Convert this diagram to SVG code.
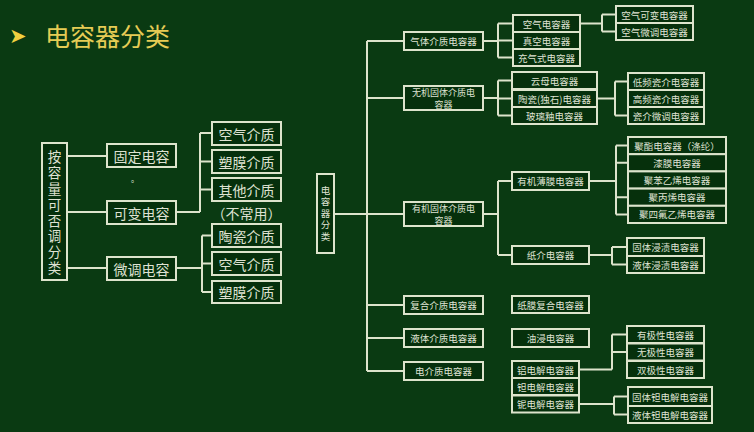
<svg xmlns="http://www.w3.org/2000/svg" width="754" height="432" viewBox="0 0 754 432">
<style>
.bg{fill:#0a3a12}
.b{fill:#06300c;stroke:#dde4cc;stroke-width:2}
.l{fill:none;stroke:#dde4cc;stroke-width:2}
text{font-family:"Noto Sans CJK SC","Noto Sans",sans-serif;fill:#dfe2d2;text-anchor:middle;dominant-baseline:central}
.t{font-size:14px}
.v{font-size:13.5px;writing-mode:vertical-rl;text-anchor:start;letter-spacing:2.36px}
.vs{font-size:9.5px;writing-mode:vertical-rl;text-anchor:start;letter-spacing:2px}
.s{font-size:9.5px}
.s2{font-size:9px}
.title{font-size:25px;fill:#e6cc55;text-anchor:start}
.arrow{font-family:"DejaVu Sans",sans-serif;font-size:21px;fill:#f0d040;text-anchor:start}
</style>
<rect class="bg" x="0" y="0" width="754" height="432"/>
<g id="title">
<text class="arrow" x="9" y="36">➤</text>
<text class="title" x="45" y="35">电容器分类</text>
</g>
<g id="connectors">
<path class="l" d="M67 156H107M67 212H107M67 268H107"/>
<path class="l" d="M176 212H200M200 133V212M200 133H212M200 161.5H212M200 189.5H212"/>
<path class="l" d="M176 268H202M202 235.5V292M202 235.5H212M202 263.5H212M202 292H212"/>
<path class="l" d="M367 41V371M367 41H404M367 98H404M334 214H404M367 305H404M367 338H404M367 371H404"/>
<path class="l" d="M483 41H498M498 23.5V57.5M498 23.5H513M498 40.5H513M498 57.5H513"/>
<path class="l" d="M580 23.5H602M602 14.5V31.5M602 14.5H616M602 31.5H616"/>
<path class="l" d="M483 98H498M498 80.5V115.5M498 80.5H512M498 98.5H512M498 115.5H512"/>
<path class="l" d="M597 98.5H615M615 81.5V115.5M615 81.5H628M615 115.5H628"/>
<path class="l" d="M483 214H498M498 181V255M498 181H512M498 255H512"/>
<path class="l" d="M589 181H616M616 145.6V214.4M616 145.6H628M616 162.8H628M616 197.2H628M616 214.4H628"/>
<path class="l" d="M589 255H612M612 247V264.5M612 247H627M612 264.5H627"/>
<path class="l" d="M579 369.5H612M612 334.5V369.5M612 334.5H627M612 352H627"/>
<path class="l" d="M579 404H614M614 396.5V414.5M614 396.5H628M614 414.5H628"/>
</g>
<g id="n-left-root">
<rect class="b" x="42" y="143" width="25" height="137"/>
<text class="v" x="54.5" y="150.25">按容量可否调分类</text>
</g>
<g id="n-fixed"><rect class="b" x="107" y="144" width="69" height="23"/><text class="t" x="141.5" y="155.5">固定电容</text></g>
<g id="n-dot"><text x="135" y="178" style="font-size:8px">。</text></g>
<g id="n-var"><rect class="b" x="107" y="201" width="69" height="23"/><text class="t" x="141.5" y="212.5">可变电容</text></g>
<g id="n-trim"><rect class="b" x="107" y="257" width="69" height="23"/><text class="t" x="141.5" y="268.5">微调电容</text></g>
<g id="n-v1"><rect class="b" x="212" y="122" width="69" height="23"/><text class="t" x="246.5" y="133.5">空气介质</text></g>
<g id="n-v2"><rect class="b" x="212" y="150" width="69" height="23"/><text class="t" x="246.5" y="161.5">塑膜介质</text></g>
<g id="n-v3"><rect class="b" x="212" y="178" width="69" height="23"/><text class="t" x="246.5" y="189.5">其他介质</text><text class="t" x="246.5" y="212.5">（不常用）</text></g>
<g id="n-t1"><rect class="b" x="212" y="224" width="69" height="23"/><text class="t" x="246.5" y="235.5">陶瓷介质</text></g>
<g id="n-t2"><rect class="b" x="212" y="252" width="69" height="23"/><text class="t" x="246.5" y="263.5">空气介质</text></g>
<g id="n-t3"><rect class="b" x="212" y="281" width="69" height="22"/><text class="t" x="246.5" y="292">塑膜介质</text></g>

<g id="n-root">
<rect class="b" x="317" y="174" width="17" height="79"/>
<text class="vs" x="325.5" y="185.25">电容器分类</text>
</g>
<g id="n-gas"><rect class="b" x="404" y="32" width="79" height="18"/><text class="s" x="443.5" y="41">气体介质电容器</text></g>
<g id="n-inorg"><rect class="b" x="404" y="86" width="79" height="24"/><text class="s2" x="443.5" y="92">无机固体介质电<tspan x="443.5" y="104">容器</tspan></text></g>
<g id="n-org"><rect class="b" x="404" y="202" width="79" height="24"/><text class="s2" x="443.5" y="208">有机固体介质电<tspan x="443.5" y="220">容器</tspan></text></g>
<g id="n-comp"><rect class="b" x="404" y="296" width="79" height="18"/><text class="s" x="443.5" y="305">复合介质电容器</text></g>
<g id="n-liq"><rect class="b" x="404" y="329" width="79" height="18"/><text class="s" x="443.5" y="338">液体介质电容器</text></g>
<g id="n-elec"><rect class="b" x="404" y="362" width="79" height="18"/><text class="s" x="443.5" y="371">电介质电容器</text></g>

<g id="n-air"><rect class="b" x="513" y="15" width="67" height="17"/><text class="s" x="546.5" y="23.5">空气电容器</text></g>
<g id="n-vac"><rect class="b" x="513" y="32" width="67" height="17"/><text class="s" x="546.5" y="40.5">真空电容器</text></g>
<g id="n-gasf"><rect class="b" x="513" y="49" width="67" height="17"/><text class="s" x="546.5" y="57.5">充气式电容器</text></g>
<g id="n-airvar"><rect class="b" x="616" y="6" width="77" height="17"/><text class="s" x="654.5" y="14.5">空气可变电容器</text></g>
<g id="n-airtrim"><rect class="b" x="616" y="23" width="77" height="17"/><text class="s" x="654.5" y="31.5">空气微调电容器</text></g>

<g id="n-mica"><rect class="b" x="512" y="72" width="85" height="17"/><text class="s" x="554.5" y="80.5">云母电容器</text></g>
<g id="n-cer"><rect class="b" x="512" y="90" width="85" height="17"/><text class="s" x="554.5" y="98.5">陶瓷(独石)电容器</text></g>
<g id="n-glass"><rect class="b" x="512" y="107" width="85" height="17"/><text class="s" x="554.5" y="115.5">玻璃釉电容器</text></g>
<g id="n-lf"><rect class="b" x="628" y="73" width="76" height="17"/><text class="s" x="666" y="81.5">低频瓷介电容器</text></g>
<g id="n-hf"><rect class="b" x="628" y="90" width="76" height="17"/><text class="s" x="666" y="98.5">高频瓷介电容器</text></g>
<g id="n-certrim"><rect class="b" x="628" y="107" width="76" height="17"/><text class="s" x="666" y="115.5">瓷介微调电容器</text></g>

<g id="n-film"><rect class="b" x="512" y="172" width="77" height="18"/><text class="s" x="550.5" y="181">有机薄膜电容器</text></g>
<g id="n-paper"><rect class="b" x="512" y="246" width="77" height="18"/><text class="s" x="550.5" y="255">纸介电容器</text></g>
<g id="n-pet"><rect class="b" x="628" y="137" width="98" height="17.2"/><text class="s" x="677" y="145.6">聚酯电容器（涤纶）</text></g>
<g id="n-lacq"><rect class="b" x="628" y="154.2" width="98" height="17.2"/><text class="s" x="677" y="162.8">漆膜电容器</text></g>
<g id="n-ps"><rect class="b" x="628" y="171.4" width="98" height="17.2"/><text class="s" x="677" y="180">聚苯乙烯电容器</text></g>
<g id="n-pp"><rect class="b" x="628" y="188.6" width="98" height="17.2"/><text class="s" x="677" y="197.2">聚丙烯电容器</text></g>
<g id="n-ptfe"><rect class="b" x="628" y="205.8" width="98" height="17.2"/><text class="s" x="677" y="214.4">聚四氟乙烯电容器</text></g>
<g id="n-solimp"><rect class="b" x="627" y="238" width="77" height="18"/><text class="s" x="665.5" y="247">固体浸渍电容器</text></g>
<g id="n-liqimp"><rect class="b" x="627" y="256" width="77" height="17"/><text class="s" x="665.5" y="264.5">液体浸渍电容器</text></g>

<g id="n-pfilm"><rect class="b" x="512" y="296" width="77" height="17"/><text class="s" x="550.5" y="304.5">纸膜复合电容器</text></g>
<g id="n-oil"><rect class="b" x="512" y="329" width="77" height="18"/><text class="s" x="550.5" y="338">油浸电容器</text></g>
<g id="n-al"><rect class="b" x="512" y="361" width="67" height="17"/><text class="s" x="545.5" y="369.5">铝电解电容器</text></g>
<g id="n-ta"><rect class="b" x="512" y="378" width="67" height="17"/><text class="s" x="545.5" y="386.5">钽电解电容器</text></g>
<g id="n-nb"><rect class="b" x="512" y="395.5" width="67" height="17"/><text class="s" x="545.5" y="404">铌电解电容器</text></g>
<g id="n-pol"><rect class="b" x="627" y="326" width="77" height="17"/><text class="s" x="665.5" y="334.5">有极性电容器</text></g>
<g id="n-nonpol"><rect class="b" x="627" y="343.5" width="77" height="17"/><text class="s" x="665.5" y="352">无极性电容器</text></g>
<g id="n-bipol"><rect class="b" x="627" y="361" width="77" height="17"/><text class="s" x="665.5" y="369.5">双极性电容器</text></g>
<g id="n-solta"><rect class="b" x="628" y="387" width="84" height="19"/><text class="s" x="670" y="396.5">固体钽电解电容器</text></g>
<g id="n-liqta"><rect class="b" x="628" y="406" width="84" height="17"/><text class="s" x="670" y="414.5">液体钽电解电容器</text></g>
</svg>
